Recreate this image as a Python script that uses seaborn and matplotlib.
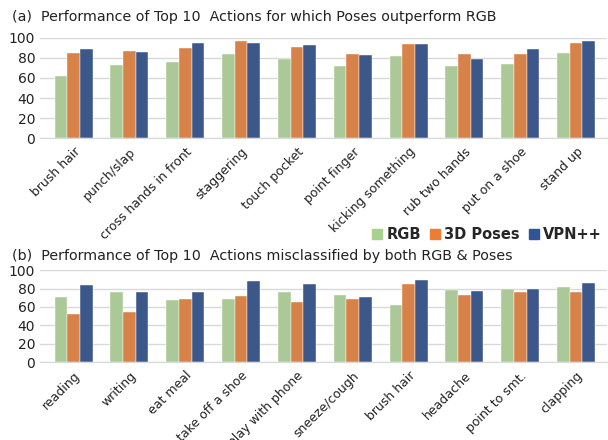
import pandas as pd
import matplotlib
matplotlib.use("Agg")
import matplotlib.pyplot as plt
import seaborn as sns

models = ["RGB", "3D Poses", "VPN++"]
colors = ["#A9D18E", "#ED7D31", "#2F5597"]

actions_a = ["brush hair", "punch/slap", "cross hands in front", "staggering", "touch pocket",
             "point finger", "kicking something", "rub two hands", "put on a shoe", "stand up"]
rgb_a = [62, 73, 76, 84, 79, 72, 82, 72, 74, 85]
pose_a = [85, 87, 90, 97, 91, 84, 94, 84, 84, 95]
vpn_a = [89, 86, 95, 95, 93, 83, 94, 79, 89, 97]

actions_b = ["reading", "writing", "eat meal", "take off a shoe", "play with phone",
             "sneeze/cough", "brush hair", "headache", "point to smt.", "clapping"]
rgb_b = [71, 76, 68, 69, 76, 73, 62, 78, 80, 82]
pose_b = [52, 54, 69, 72, 65, 69, 85, 73, 76, 76]
vpn_b = [84, 76, 76, 88, 85, 71, 89, 77, 80, 86]


def to_long(actions, rgb, pose, vpn):
    df = pd.DataFrame({"action": actions, "RGB": rgb, "3D Poses": pose, "VPN++": vpn})
    return df.melt(id_vars="action", var_name="model", value_name="acc")


sns.set_style("white")
plt.rcParams["font.family"] = ["Verdana", "DejaVu Sans"]

fig = plt.figure(figsize=(6.08, 4.40), dpi=100)
ax_a = fig.add_axes([0.066, 0.686, 0.932, 0.228])
ax_b = fig.add_axes([0.066, 0.177, 0.932, 0.209])

panels = [
    (ax_a, to_long(actions_a, rgb_a, pose_a, vpn_a), actions_a),
    (ax_b, to_long(actions_b, rgb_b, pose_b, vpn_b), actions_b),
]

for ax, df, actions in panels:
    sns.barplot(data=df, x="action", y="acc", hue="model", hue_order=models,
                palette=colors, width=0.68, ax=ax, legend=False,
                edgecolor="white", linewidth=0.3)
    ax.set_ylim(0, 100)
    ax.set_yticks([0, 20, 40, 60, 80, 100])
    ax.yaxis.grid(True, color="#D9D9D9", linewidth=1)
    ax.set_axisbelow(True)
    ax.set_xlabel("")
    ax.set_ylabel("")
    for s in ["top", "right", "left"]:
        ax.spines[s].set_visible(False)
    ax.spines["bottom"].set_color("#D9D9D9")
    ax.tick_params(axis="y", length=0, labelsize=10, colors="#222222")
    ax.tick_params(axis="x", length=0, labelsize=9, colors="#222222", pad=5)
    ax.set_xticks(range(len(actions)))
    ax.set_xticklabels(actions, rotation=45, ha="right", rotation_mode="anchor")
    ax.set_xlim(-0.6, len(actions) - 0.45)

fig.text(0.02, 0.962, "(a)  Performance of Top 10  Actions for which Poses outperform RGB",
         fontsize=10.3, color="#222222", va="center")
fig.text(0.02, 0.418, "(b)  Performance of Top 10  Actions misclassified by both RGB & Poses",
         fontsize=10.3, color="#222222", va="center")

handles = [plt.Rectangle((0, 0), 1, 1, color=c) for c in colors]
leg = fig.legend(handles, models, loc="center right", bbox_to_anchor=(1.012, 0.466),
                 ncol=3, frameon=False, fontsize=10.5, handlelength=0.7, handleheight=0.7,
                 handletextpad=0.3, columnspacing=0.6)
for t in leg.get_texts():
    t.set_fontweight("bold")

fig.savefig("out.png", dpi=100)
